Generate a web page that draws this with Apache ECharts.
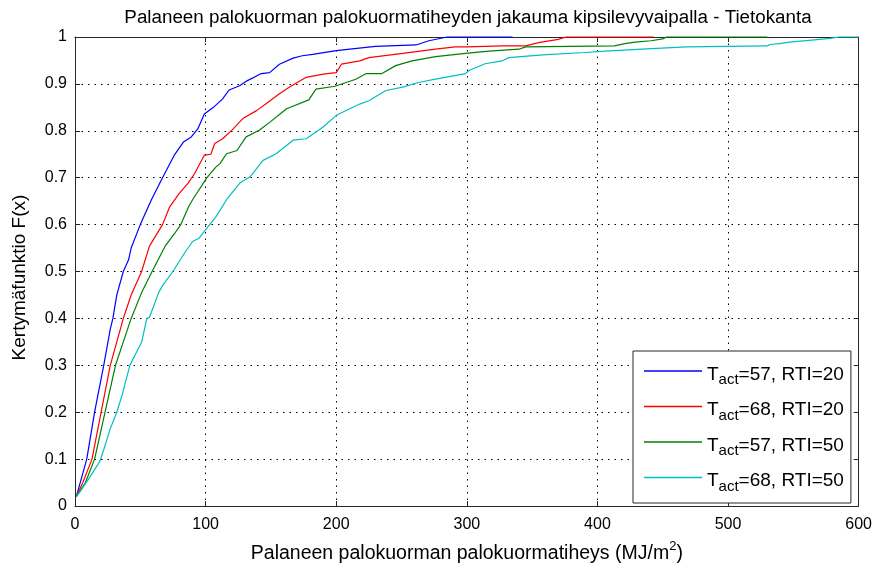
<!DOCTYPE html>
<html>
<head>
<meta charset="utf-8">
<script src="https://cdn.jsdelivr.net/npm/echarts@6/dist/echarts.min.js"></script>
<style>
  html, body { margin: 0; padding: 0; background: #fff; }
  #chart { width: 875px; height: 569px; }
</style>
</head>
<body>
<div id="chart"></div>
<script>
// Empirical CDF of burnt fire load density, four sprinkler configurations
const xTicks = [0, 100, 200, 300, 400, 500, 600];
const yTicks = [0, 0.1, 0.2, 0.3, 0.4, 0.5, 0.6, 0.7, 0.8, 0.9, 1];

const seriesNames = ['57,20', '68,20', '57,50', '68,50'];
const legendTexts = ['=57, RTI=20', '=68, RTI=20', '=57, RTI=50', '=68, RTI=50'];

// T_act = 57, RTI = 20
const x57r20 = [1, 4, 9, 15, 22, 27, 29, 32, 37, 41, 43, 50, 58.5, 67, 70, 76, 83, 89, 94, 99, 106, 113, 118, 126, 132, 139, 142.5, 149, 156.5, 167, 174, 182, 200, 230, 261, 271, 285, 335];
const y57r20 = [0.02, 0.05, 0.1, 0.2, 0.3, 0.377, 0.4, 0.45, 0.5, 0.525, 0.55, 0.6, 0.653, 0.7, 0.716, 0.748, 0.776, 0.787, 0.804, 0.836, 0.85, 0.868, 0.887, 0.896, 0.907, 0.917, 0.922, 0.924, 0.942, 0.955, 0.96, 0.963, 0.971, 0.98, 0.983, 0.992, 1, 1];

// T_act = 68, RTI = 20
const x68r20 = [1, 6, 13, 20, 27, 32, 37, 43, 51, 57, 67, 72.5, 80, 86.5, 91.6, 99, 104, 107, 113, 120, 128.5, 139, 146, 156.5, 164, 177, 190, 200, 204, 218, 225, 251, 276, 291, 300, 327, 345, 355, 370, 376, 443];
const y68r20 = [0.02, 0.05, 0.1, 0.2, 0.3, 0.35, 0.4, 0.45, 0.5, 0.554, 0.6, 0.638, 0.667, 0.688, 0.709, 0.748, 0.75, 0.773, 0.783, 0.801, 0.826, 0.843, 0.857, 0.879, 0.893, 0.914, 0.921, 0.924, 0.942, 0.949, 0.956, 0.965, 0.974, 0.979, 0.979, 0.981, 0.981, 0.988, 0.995, 1, 1];

// T_act = 57, RTI = 50
const x57r50 = [1, 8, 15, 23, 31, 37, 43, 51, 59, 69, 76, 81, 87, 90, 94, 101, 108, 111, 116, 124, 131, 141, 149, 157, 162, 179, 184.5, 199, 215, 223, 235, 245.5, 258, 276, 299, 317, 340, 345, 413, 421, 429, 441, 450, 453, 530];
const y57r50 = [0.02, 0.05, 0.1, 0.2, 0.3, 0.35, 0.4, 0.455, 0.5, 0.554, 0.58, 0.6, 0.638, 0.653, 0.67, 0.7, 0.723, 0.73, 0.751, 0.758, 0.787, 0.801, 0.818, 0.836, 0.847, 0.866, 0.889, 0.895, 0.91, 0.922, 0.922, 0.939, 0.949, 0.958, 0.965, 0.97, 0.974, 0.979, 0.981, 0.986, 0.989, 0.992, 0.996, 1, 1];

// T_act = 68, RTI = 50
const x68r50 = [1, 4, 11, 19, 22, 27, 32, 36, 42, 51, 55, 57, 64, 67.5, 75, 84, 90, 95, 104, 108, 116, 126, 134, 144, 154, 167, 177, 187, 190, 200, 218, 225, 238, 251, 263, 276, 299, 302, 314, 327, 332, 358, 391, 406, 434, 468, 530, 532, 539, 547, 562, 578, 585, 600];
const y68r50 = [0.02, 0.031, 0.06, 0.095, 0.12, 0.165, 0.2, 0.236, 0.3, 0.349, 0.4, 0.402, 0.455, 0.472, 0.5, 0.54, 0.564, 0.571, 0.603, 0.617, 0.653, 0.688, 0.702, 0.737, 0.751, 0.78, 0.783, 0.802, 0.808, 0.833, 0.857, 0.864, 0.886, 0.893, 0.903, 0.91, 0.922, 0.929, 0.943, 0.949, 0.956, 0.962, 0.967, 0.97, 0.974, 0.979, 0.981, 0.984, 0.986, 0.989, 0.993, 0.997, 1, 1];

const xsAll = [x57r20, x68r20, x57r50, x68r50];
const ysAll = [y57r20, y68r20, y57r50, y68r50];
const colors = ['#0000ff', '#ff0000', '#008000', '#00bfbf'];

const FONT = '"Liberation Sans", Arial, sans-serif';
const AXIS_COLOR = '#262626';

const chart = echarts.init(document.getElementById('chart'), null, { renderer: 'canvas' });

const series = seriesNames.map((name, i) => ({
  name,
  type: 'line',
  xAxisIndex: 0,
  yAxisIndex: 0,
  symbol: 'none',
  smooth: false,
  clip: false,
  animation: false,
  lineStyle: { color: colors[i], width: 1.2 },
  itemStyle: { color: colors[i] },
  data: xsAll[i].map((x, k) => [x, ysAll[i][k]]),
  z: 3
}));

const tickLabelStyle = { color: '#000', fontFamily: FONT, fontSize: 16 };

const option = {
  backgroundColor: '#ffffff',
  animation: false,
  title: {
    text: 'Palaneen palokuorman palokuormatiheyden jakauma kipsilevyvaipalla - Tietokanta',
    left: 463,
    textAlign: 'center',
    top: 3,
    textStyle: { color: '#000', fontFamily: FONT, fontSize: 18.8, fontWeight: 'normal' }
  },
  grid: { left: 75, right: 14, top: 37, bottom: 61, containLabel: false },
  legend: {
    orient: 'vertical',
    left: 633,
    top: 351,
    padding: [14, 7, 9, 11],
    itemGap: 13,
    itemWidth: 58,
    itemHeight: 1.6,
    icon: 'rect',
    backgroundColor: '#fff',
    borderColor: AXIS_COLOR,
    borderWidth: 1,
    borderRadius: 0,
    data: seriesNames,
    formatter: name => '{t|T}{s|act}{t|' + legendTexts[seriesNames.indexOf(name)] + '}',
    textStyle: {
      fontFamily: FONT,
      color: '#000',
      padding: [7, 0, 0, 0],
      rich: {
        t: { fontFamily: FONT, fontSize: 19, color: '#000', lineHeight: 26 },
        s: { fontFamily: FONT, fontSize: 15, color: '#000', lineHeight: 14, verticalAlign: 'bottom' }
      }
    }
  },
  xAxis: [
    {
      type: 'value', min: 0, max: 600, interval: 100, position: 'bottom',
      name: '{n|Palaneen palokuorman palokuormatiheys (MJ/m}{sup|2}{n|)}',
      nameLocation: 'middle', nameGap: 34,
      nameTextStyle: {
        rich: {
          n: { fontFamily: FONT, fontSize: 19.5, color: '#000', lineHeight: 24, verticalAlign: 'bottom' },
          sup: { fontFamily: FONT, fontSize: 13, color: '#000', lineHeight: 24, verticalAlign: 'top', padding: [0, 0, 10, 0] }
        }
      },
      axisLine: { show: true, onZero: false, lineStyle: { color: AXIS_COLOR, width: 1 } },
      axisTick: { show: true, inside: true, length: 5, lineStyle: { color: AXIS_COLOR } },
      axisLabel: Object.assign({ margin: 11, formatter: v => String(v) }, tickLabelStyle),
      splitLine: { show: true, lineStyle: { color: '#000', width: 1, type: [1.5, 5] } }
    },
    {
      type: 'value', min: 0, max: 600, interval: 100, position: 'top',
      axisLine: { show: true, onZero: false, lineStyle: { color: AXIS_COLOR, width: 1 } },
      axisTick: { show: true, inside: true, length: 5, lineStyle: { color: AXIS_COLOR } },
      axisLabel: { show: false },
      splitLine: { show: false }
    }
  ],
  yAxis: [
    {
      type: 'value', min: 0, max: 1, interval: 0.1, position: 'left',
      name: 'Kertymäfunktio F(x)',
      nameLocation: 'middle', nameGap: 46, nameRotate: 90,
      nameTextStyle: { fontFamily: FONT, fontSize: 19, color: '#000', padding: [0, 12, 0, 0] },
      axisLine: { show: true, onZero: false, lineStyle: { color: AXIS_COLOR, width: 1 } },
      axisTick: { show: true, inside: true, length: 5, lineStyle: { color: AXIS_COLOR } },
      axisLabel: Object.assign({ margin: 8, formatter: v => String(+v.toFixed(1)) }, tickLabelStyle),
      splitLine: { show: true, lineStyle: { color: '#000', width: 1, type: [1.5, 5] } }
    },
    {
      type: 'value', min: 0, max: 1, interval: 0.1, position: 'right',
      axisLine: { show: true, onZero: false, lineStyle: { color: AXIS_COLOR, width: 1 } },
      axisTick: { show: true, inside: true, length: 5, lineStyle: { color: AXIS_COLOR } },
      axisLabel: { show: false },
      splitLine: { show: false }
    }
  ],
  series
};

chart.setOption(option);
</script>
</body>
</html>
